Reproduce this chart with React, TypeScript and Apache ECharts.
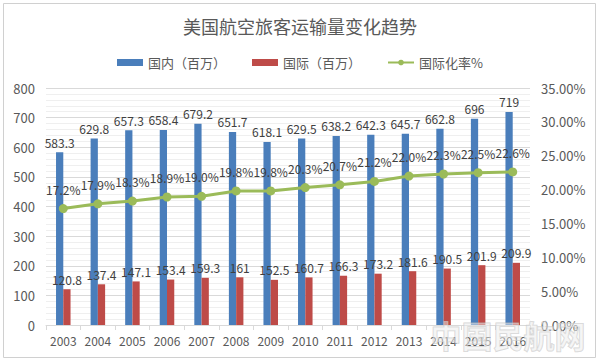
import React, { useEffect, useRef } from "react";
import * as echarts from "echarts";

const years = ["2003","2004","2005","2006","2007","2008","2009","2010","2011","2012","2013","2014","2015","2016"];
const domestic = [583.3,629.8,657.3,658.4,679.2,651.7,618.1,629.5,638.2,642.3,645.7,662.8,696,719];
const international = [120.8,137.4,147.1,153.4,159.3,161,152.5,160.7,166.3,173.2,181.6,190.5,201.9,209.9];
const intlRate = [17.2,17.9,18.3,18.9,19.0,19.8,19.8,20.3,20.7,21.2,22.0,22.3,22.5,22.6];

const FONT = "'Noto Sans CJK SC', 'Noto Sans', sans-serif";
const TXT = "#595959";

export default function App() {
  const ref = useRef<HTMLDivElement>(null);
  useEffect(() => {
    if (!ref.current) return;
    const chart = echarts.init(ref.current, undefined, { renderer: "svg" });
    chart.setOption({
      animation: false,
      backgroundColor: "#ffffff",
      textStyle: { fontFamily: FONT },
      title: {
        text: "美国航空旅客运输量变化趋势",
        left: "center",
        top: 12,
        textStyle: { fontSize: 18, fontWeight: "normal", color: TXT, fontFamily: FONT },
      },
      legend: {
        top: 51,
        left: "center",
        itemGap: 26,
        itemWidth: 26,
        itemHeight: 7,
        textStyle: { fontSize: 13, color: TXT, fontFamily: FONT },
        data: [
          { name: "国内（百万）", icon: "rect" },
          { name: "国际（百万）", icon: "rect" },
          { name: "国际化率%" },
        ],
      },
      grid: { left: 46, right: 70, top: 88, bottom: 37, containLabel: false },
      xAxis: {
        type: "category",
        data: years,
        boundaryGap: true,
        axisLine: { lineStyle: { color: "#d9d9d9" } },
        axisTick: { show: true, length: 5, lineStyle: { color: "#d9d9d9" } },
        axisLabel: { color: TXT, fontSize: 12, margin: 9, interval: 0, fontFamily: FONT },
      },
      yAxis: [
        {
          type: "value",
          min: 0,
          max: 800,
          interval: 100,
          axisLine: { show: false },
          axisTick: { show: false },
          axisLabel: { color: TXT, fontSize: 13, margin: 11, fontFamily: FONT },
          splitLine: { show: true, lineStyle: { color: "#d9d9d9" } },
          minorTick: { show: false, splitNumber: 5 },
          minorSplitLine: { show: true, lineStyle: { color: "#efefef" } },
        },
        {
          type: "value",
          min: 0,
          max: 35,
          interval: 5,
          position: "right",
          axisLine: { show: false },
          axisTick: { show: false },
          splitLine: { show: false },
          axisLabel: {
            color: TXT,
            fontSize: 13,
            margin: 11,
            fontFamily: FONT,
            formatter: (v: number) => v.toFixed(2) + "%",
          },
        },
      ],
      series: [
        {
          name: "国内（百万）",
          type: "bar",
          data: domestic,
          barWidth: "21%",
          barGap: "0%",
          itemStyle: { color: "#4a7ebb" },
          label: { show: true, position: "top", distance: 4, color: "#404040", fontSize: 12, fontFamily: FONT },
        },
        {
          name: "国际（百万）",
          type: "bar",
          data: international,
          barWidth: "21%",
          barGap: "0%",
          itemStyle: { color: "#be4b48" },
          label: { show: true, position: "top", distance: 4, color: "#404040", fontSize: 12, fontFamily: FONT },
        },
        {
          name: "国际化率%",
          type: "line",
          yAxisIndex: 1,
          data: intlRate,
          symbol: "circle",
          symbolSize: 9,
          lineStyle: { color: "#9bbb59", width: 3 },
          itemStyle: { color: "#9bbb59" },
          label: {
            show: true,
            position: "top",
            distance: 9,
            color: "#404040",
            fontSize: 12,
            fontFamily: FONT,
            formatter: (p: any) => Number(p.value).toFixed(1) + "%",
          },
          z: 5,
        },
      ],
      graphic: [
        {
          type: "rect",
          shape: { x: 3.5, y: 3.5, width: 592, height: 354 },
          style: { fill: "none", stroke: "#d0d0d0", lineWidth: 1 },
          silent: true,
        },
        {
          type: "text",
          right: 14,
          bottom: 12,
          style: {
            text: "中国民航网",
            fontSize: 31,
            fontWeight: "bold",
            fontFamily: FONT,
            fill: "rgba(235,235,235,0.5)",
            stroke: "rgba(190,190,190,0.65)",
            lineWidth: 1,
          },
          silent: true,
          z: 10,
        },
      ],
    });
    return () => chart.dispose();
  }, []);
  return (
    <div
      ref={ref}
      style={{ position: "fixed", left: 0, top: 0, width: 600, height: 362 }}
    />
  );
}
